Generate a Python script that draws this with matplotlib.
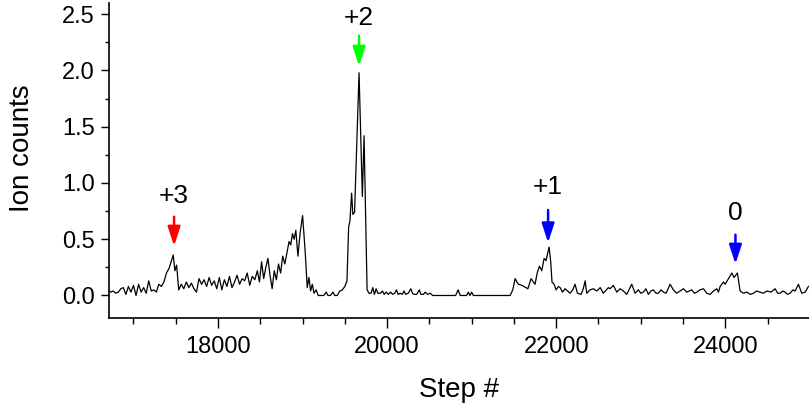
import matplotlib
matplotlib.use('Agg')
import matplotlib.pyplot as plt
from matplotlib.ticker import MultipleLocator

# trace (step number, ion counts)
steps = [16700, 16730, 16760, 16790, 16820, 16850, 16880, 16910, 16940, 16970,
         17000, 17030, 17060, 17090, 17120, 17150, 17180, 17210, 17240, 17270,
         17300, 17330, 17360, 17390, 17420, 17445, 17470, 17490, 17510, 17535,
         17565, 17595, 17625, 17655, 17685, 17715, 17745, 17775, 17805, 17835,
         17865, 17895, 17925, 17955, 17985, 18015, 18045, 18075, 18105, 18135,
         18165, 18195, 18225, 18255, 18285, 18315, 18345, 18375, 18405, 18435,
         18465, 18490, 18515, 18540, 18565, 18590, 18615, 18640, 18665, 18690,
         18715, 18740, 18765, 18790, 18815, 18840, 18860, 18880, 18900, 18920,
         18945, 18970, 19000, 19030, 19055, 19075, 19095, 19115, 19135, 19160,
         19185, 19220, 19250, 19280, 19300, 19330, 19360, 19380, 19410, 19440,
         19470, 19500, 19525, 19545, 19560, 19580, 19595, 19615, 19668, 19707,
         19727, 19763, 19786, 19810, 19830, 19850, 19870, 19890, 19920, 19945,
         19965, 19990, 20015, 20040, 20065, 20090, 20110, 20130, 20155, 20180,
         20200, 20220, 20250, 20280, 20300, 20320, 20350, 20380, 20400, 20430,
         20450, 20480, 20510, 20540, 20810, 20840, 20865, 20940, 20960, 20980,
         21000, 21020, 21455, 21486, 21514, 21535, 21553, 21595, 21640, 21665,
         21703, 21730, 21750, 21775, 21801, 21829, 21857, 21880, 21900, 21916,
         21935, 21950, 21975, 21999, 22025, 22046, 22075, 22105, 22135, 22164,
         22195, 22223, 22251, 22294, 22320, 22342, 22361, 22400, 22440, 22480,
         22520, 22558, 22617, 22637, 22676, 22716, 22755, 22795, 22834, 22860,
         22893, 22933, 22972, 23000, 23031, 23060, 23090, 23120, 23150, 23180,
         23209, 23240, 23268, 23300, 23347, 23386, 23425, 23465, 23505, 23544,
         23575, 23603, 23635, 23663, 23700, 23742, 23780, 23820, 23860, 23899,
         23919, 23939, 23978, 23998, 24037, 24077, 24104, 24143, 24175, 24215,
         24254, 24295, 24333, 24370, 24412, 24450, 24491, 24540, 24589, 24620,
         24648, 24680, 24707, 24735, 24766, 24800, 24826, 24865, 24904, 24944,
         24983]
counts = [0.05, 0.03, 0.04, 0.02, 0.03, 0.06, 0.07, 0.01, 0.08, 0.03,
          0.09, 0.00, 0.10, 0.03, 0.07, 0.02, 0.13, 0.04, 0.05, 0.03,
          0.10, 0.08, 0.12, 0.20, 0.24, 0.30, 0.36, 0.22, 0.27, 0.05,
          0.10, 0.06, 0.12, 0.07, 0.11, 0.06, 0.03, 0.15, 0.10, 0.14,
          0.08, 0.16, 0.09, 0.13, 0.06, 0.16, 0.05, 0.14, 0.08, 0.17,
          0.07, 0.12, 0.18, 0.10, 0.15, 0.13, 0.20, 0.09, 0.17, 0.14,
          0.22, 0.12, 0.30, 0.15, 0.25, 0.33, 0.18, 0.06, 0.22, 0.14,
          0.28, 0.20, 0.35, 0.28, 0.38, 0.48, 0.45, 0.55, 0.50, 0.58,
          0.35, 0.55, 0.71, 0.40, 0.07, 0.16, 0.04, 0.10, 0.02, 0.05,
          0.00, 0.00, 0.00, 0.03, 0.00, 0.00, 0.03, 0.00, 0.00, 0.04,
          0.05, 0.08, 0.13, 0.61, 0.66, 0.91, 0.72, 0.74, 1.98, 0.88,
          1.42, 0.05, 0.02, 0.02, 0.07, 0.01, 0.06, 0.02, 0.02, 0.04,
          0.01, 0.03, 0.01, 0.03, 0.01, 0.02, 0.05, 0.01, 0.02, 0.01,
          0.04, 0.01, 0.02, 0.06, 0.02, 0.01, 0.01, 0.05, 0.01, 0.01,
          0.03, 0.01, 0.02, 0.00, 0.00, 0.05, 0.00, 0.00, 0.03, 0.00,
          0.03, 0.00, 0.00, 0.05, 0.15, 0.12, 0.10, 0.09, 0.07, 0.06,
          0.15, 0.12, 0.10, 0.20, 0.26, 0.22, 0.33, 0.31, 0.38, 0.43,
          0.30, 0.12, 0.10, 0.05, 0.08, 0.07, 0.03, 0.06, 0.04, 0.02,
          0.05, 0.10, 0.02, 0.01, 0.06, 0.13, 0.02, 0.05, 0.06, 0.04,
          0.07, 0.02, 0.07, 0.06, 0.09, 0.03, 0.06, 0.04, 0.01, 0.05,
          0.10, 0.02, 0.05, 0.02, 0.03, 0.06, 0.01, 0.04, 0.05, 0.02,
          0.02, 0.05, 0.03, 0.02, 0.10, 0.05, 0.02, 0.04, 0.06, 0.03,
          0.04, 0.05, 0.02, 0.03, 0.05, 0.06, 0.02, 0.01, 0.04, 0.06,
          0.03, 0.08, 0.12, 0.10, 0.15, 0.20, 0.16, 0.20, 0.04, 0.02,
          0.03, 0.01, 0.02, 0.04, 0.03, 0.02, 0.04, 0.03, 0.06, 0.02,
          0.02, 0.04, 0.03, 0.01, 0.02, 0.05, 0.04, 0.10, 0.02, 0.03,
          0.08]

# charge state markers: label, step, arrow tail, arrow tip, text y, colour
peak_labels = ['+3', '+2', '+1', '0']
peak_steps = [17480, 19668, 21904, 24120]
arrow_tail = [0.70, 2.31, 0.76, 0.54]
arrow_tip = [0.44, 2.04, 0.47, 0.28]
label_y = [0.88, 2.47, 0.96, 0.73]
peak_colors = ['#ff0000', '#00ff00', '#0000ff', '#0000ff']

plt.rcParams['font.family'] = ['Liberation Sans', 'DejaVu Sans']

fig = plt.figure(figsize=(8.09, 4.11), dpi=100)
ax = fig.add_axes([0.1347, 0.2263, 0.8653, 0.7664])

ax.plot(steps, counts, color='black', linewidth=0.9)

for lab, xs, y0, y1, ty, col in zip(peak_labels, peak_steps, arrow_tail,
                                   arrow_tip, label_y, peak_colors):
    ax.annotate('', xy=(xs, y1), xytext=(xs, y0),
                arrowprops=dict(arrowstyle='-|>,head_length=0.58,head_width=0.19',
                                color=col, lw=1.8, mutation_scale=20,
                                shrinkA=0, shrinkB=0))
    ax.text(xs, ty, lab, ha='center', va='center', fontsize=19)

ax.set_xlim(16710, 24990)
ax.set_ylim(-0.2, 2.6)

ax.xaxis.set_major_locator(MultipleLocator(2000))
ax.xaxis.set_minor_locator(MultipleLocator(500))
ax.yaxis.set_major_locator(MultipleLocator(0.5))
ax.yaxis.set_minor_locator(MultipleLocator(0.25))
ax.yaxis.set_major_formatter(plt.FuncFormatter(lambda v, p: f'{v:.1f}'))

ax.spines['top'].set_visible(False)
ax.spines['right'].set_visible(False)
ax.spines['left'].set_linewidth(1.2)
ax.spines['bottom'].set_linewidth(1.2)

ax.tick_params(axis='x', which='major', length=7, width=1, labelsize=17, pad=6)
ax.tick_params(axis='x', which='minor', length=4, width=1)
ax.tick_params(axis='y', which='major', length=6, width=1, labelsize=17, pad=4)
ax.tick_params(axis='y', which='minor', length=3, width=1)

ax.set_xlabel('Step #', fontsize=20, labelpad=14)
ax.set_ylabel('Ion counts', fontsize=20)
ax.yaxis.set_label_coords(-0.106, 0.54)

fig.savefig('out.png', dpi=100)
